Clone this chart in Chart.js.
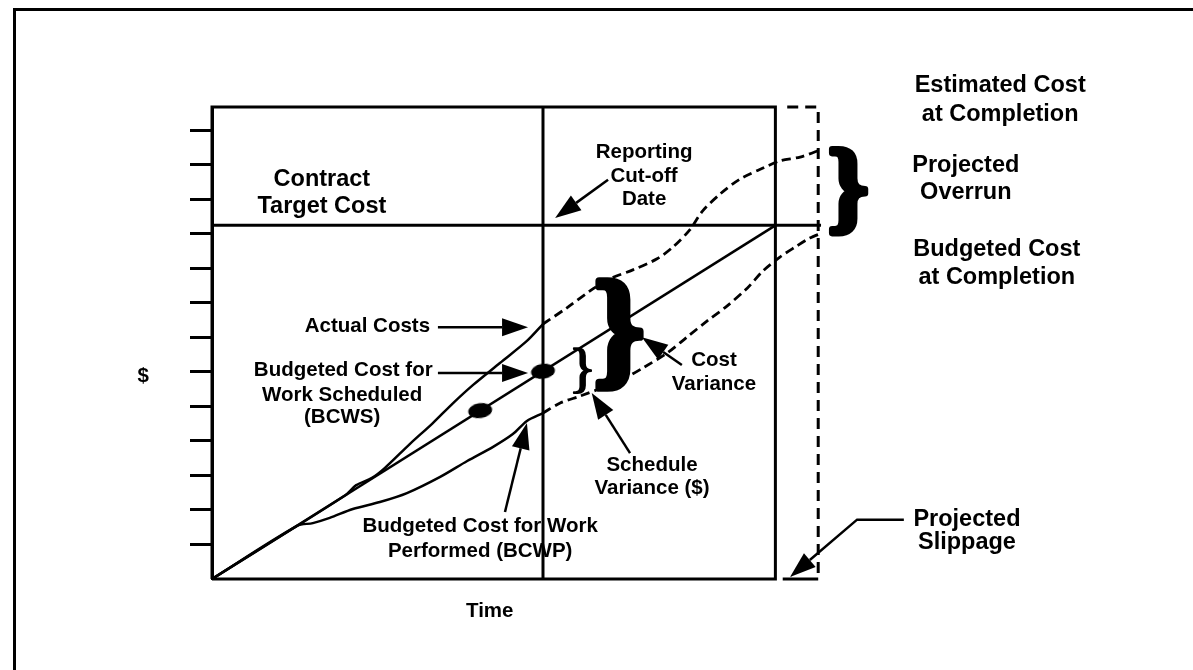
<!DOCTYPE html>
<html><head><meta charset="utf-8">
<script src="https://cdn.jsdelivr.net/npm/chart.js@4.4.1/dist/chart.umd.min.js"></script>
<style>
html,body{margin:0;padding:0;background:#fff;width:1193px;height:670px;overflow:hidden;}
#wrap{position:relative;width:1193px;height:670px;}
#frame{position:absolute;left:13px;top:8px;width:1200px;height:700px;border-top:3px solid #000;border-left:3px solid #000;pointer-events:none;}
canvas{position:absolute;left:0;top:0;}
</style></head><body>
<div id="wrap"><canvas id="c" width="1193" height="670"></canvas><div id="frame"></div></div>
<script>
// ---- data (x = time units, y = cost units; one y tick per cost unit) ----
const yTickValues = [1,2,3,4,5,6,7,8,9,10,11,12,13];
const plotFrame = [[0,0],[100,0],[100,13.68],[0,13.68],[0,0]];
const cutoffLine = [[58.75,0],[58.75,13.68]];
const targetCostLine = [[0,10.25],[108.1,10.25]];
const slippageBox = [[102.1,13.68],[107.6,13.68],[107.6,0]];
const slippageStub = [[101.3,0],[107.6,0]];
const bcws = [[0,0],[100,10.25]];
const bcwsMarkers = [[47.6,4.88],[58.75,6.02]];
const actualToDate = [[0,0],[23.6,2.42],[25.6,2.72],[28.4,2.93],[30.7,3.22],[35.1,3.91],[39.2,4.52],[42.8,5.10],[46.3,5.62],[51.1,6.26],[55.9,6.90],[58.75,7.39]];
const actualProjected = [[58.75,7.39],[63.0,7.86],[67.1,8.35],[70.6,8.70],[74.7,8.96],[79.0,9.28],[81.8,9.62],[84.8,10.12],[87.1,10.67],[90.2,11.16],[93.7,11.59],[97.8,11.91],[100.8,12.12],[104.4,12.23],[108.3,12.46]];
const bcwpToDate = [[0,0],[15.1,1.54],[17.9,1.62],[20.9,1.77],[25.0,2.03],[29.8,2.23],[34.6,2.49],[40.5,2.96],[45.3,3.42],[49.9,3.83],[53.4,4.20],[55.9,4.58],[58.75,4.81]];
const bcwpProjected = [[58.75,4.81],[61.8,5.10],[65.3,5.30],[68.9,5.52],[73.7,5.86],[76.5,6.12],[80.8,6.55],[84.3,7.01],[87.9,7.48],[91.4,7.91],[95.0,8.43],[97.8,8.93],[100.8,9.33],[103.5,9.62],[106.1,9.88],[108.3,10.03]];

// ---- annotations (layout) ----
const labels = [
  {t:'Contract',x:19.5,y:11.57,s:23.5},{t:'Target Cost',x:19.5,y:10.80,s:23.5},
  {t:'Estimated Cost',x:139.9,y:14.29,s:23.5},{t:'at Completion',x:139.9,y:13.47,s:23.5},
  {t:'Projected',x:133.8,y:11.97,s:23.5},{t:'Overrun',x:133.8,y:11.19,s:23.5},
  {t:'Budgeted Cost',x:139.3,y:9.54,s:23.5},{t:'at Completion',x:139.3,y:8.75,s:23.5},
  {t:'Projected',x:134.0,y:1.72,s:23.5},{t:'Slippage',x:134.0,y:1.05,s:23.5},
  {t:'Reporting',x:76.7,y:12.38,s:20.5},{t:'Cut-off',x:76.7,y:11.68,s:20.5},{t:'Date',x:76.7,y:10.99,s:20.5},
  {t:'Actual Costs',x:38.7,y:7.33,s:20.5,a:'right'},
  {t:'Budgeted Cost for',x:23.3,y:6.05,s:20.5},{t:'Work Scheduled',x:23.1,y:5.33,s:20.5},{t:'(BCWS)',x:23.1,y:4.68,s:20.5},
  {t:'Cost',x:89.1,y:6.34,s:20.5},{t:'Variance',x:89.1,y:5.64,s:20.5},
  {t:'Schedule',x:78.1,y:3.30,s:20.5},{t:'Variance ($)',x:78.1,y:2.62,s:20.5},
  {t:'Budgeted Cost for Work',x:47.6,y:1.54,s:20.5},{t:'Performed (BCWP)',x:47.6,y:0.81,s:20.5},
  {t:'Time',x:49.3,y:-0.93,s:20.5},
  {t:'$',x:-12.2,y:5.86,s:20.5}
];
const arrows = [
  [[40.1,7.30],[56.1,7.30]],
  [[40.1,5.97],[56.1,5.97]],
  [[70.3,11.57],[60.9,10.46]],
  [[83.4,6.20],[76.3,7.01]],
  [[74.2,3.65],[67.4,5.39]],
  [[52.0,1.94],[55.9,4.52]],
  [[122.8,1.72],[114.5,1.72],[102.6,0.06]]
];
const braces = [
  {x0:109.9,x1:116.1,y0:10.0,y1:12.45,bold:true,stroke:6},
  {x0:68.5,x1:76.1,y0:5.5,y1:8.6,bold:true,stroke:6},
  {x0:64.2,x1:67.3,y0:5.38,y1:6.68,bold:false,stroke:3}
];

const toXY = a => a.map(([x,y]) => ({x,y}));
function line(data, w, dash, tension){
  return {data:toXY(data), showLine:true, borderColor:'#000', backgroundColor:'#000', borderWidth:w,
    borderDash:dash||[], pointRadius:0, tension:tension||0, clip:false, fill:false};
}
const dot = document.createElement('canvas'); dot.width=25; dot.height=16;
(function(){const d=dot.getContext('2d'); d.fillStyle='#000'; d.beginPath(); d.ellipse(12.5,8,12,7.5,0,0,Math.PI*2); d.fill();})();

const annot = {
  id:'annot',
  afterDatasetsDraw(chart){
    const ctx = chart.ctx, xs = chart.scales.x, ys = chart.scales.y;
    const X = v => xs.getPixelForValue(v), Y = v => ys.getPixelForValue(v);
    ctx.save();
    ctx.fillStyle = '#000'; ctx.strokeStyle = '#000'; ctx.lineCap='butt'; ctx.lineJoin='miter';
    arrows.forEach(a => {
      const p = a.map(([x,y]) => [X(x),Y(y)]);
      const n = p.length, [tx,ty] = p[n-1], [qx,qy] = p[n-2];
      const d = Math.hypot(tx-qx,ty-qy), ux=(tx-qx)/d, uy=(ty-qy)/d;
      const len=26, hw=9, bx=tx-ux*len, by=ty-uy*len;
      ctx.beginPath(); ctx.moveTo(p[0][0],p[0][1]);
      for(let i=1;i<n-1;i++) ctx.lineTo(p[i][0],p[i][1]);
      ctx.lineTo(bx,by); ctx.lineWidth=2.5; ctx.stroke();
      ctx.beginPath(); ctx.moveTo(tx,ty); ctx.lineTo(bx-uy*hw,by+ux*hw); ctx.lineTo(bx+uy*hw,by-ux*hw); ctx.closePath(); ctx.fill();
    });
    braces.forEach(b => {
      const x0=X(b.x0), x1=X(b.x1), yt=Y(b.y1), yb=Y(b.y0);
      ctx.save();
      ctx.font = (b.bold?'bold ':'') + '100px "Liberation Serif", serif';
      const m = ctx.measureText('}');
      const gw = m.actualBoundingBoxLeft + m.actualBoundingBoxRight;
      const gh = m.actualBoundingBoxAscent + m.actualBoundingBoxDescent;
      ctx.translate(x0,yt); ctx.scale((x1-x0)/gw,(yb-yt)/gh);
      ctx.textAlign='left'; ctx.textBaseline='alphabetic';
      ctx.lineJoin='round'; ctx.lineWidth=b.stroke;
      ctx.fillText('}', m.actualBoundingBoxLeft, m.actualBoundingBoxAscent);
      ctx.strokeText('}', m.actualBoundingBoxLeft, m.actualBoundingBoxAscent);
      ctx.restore();
    });
    labels.forEach(l => {
      ctx.font = 'bold ' + l.s + 'px "Liberation Sans", Arial, sans-serif';
      ctx.textAlign = l.a || 'center'; ctx.textBaseline = 'middle';
      ctx.fillText(l.t, X(l.x), Y(l.y));
    });
    ctx.restore();
  }
};

new Chart(document.getElementById('c'), {
  type:'scatter',
  data:{datasets:[
    line(plotFrame,3),
    line(cutoffLine,3),
    line(targetCostLine,3),
    line(slippageBox,3,[11,7]),
    line(slippageStub,3),
    line(bcws,2.5),
    line(actualToDate,2.5,null,0.3),
    line(actualProjected,2.8,[9,5],0.3),
    line(bcwpToDate,2.5,null,0.3),
    line(bcwpProjected,2.8,[9,5],0.3),
    {data:toXY(bcwsMarkers), showLine:false, pointStyle:dot, pointRadius:6, pointRotation:-8, clip:false}
  ]},
  options:{
    responsive:false, animation:false, events:[],
    layout:{padding:{left:190,right:350,top:107,bottom:91}},
    scales:{
      x:{type:'linear', min:0, max:112, display:false},
      y:{type:'linear', min:0, max:13.68, position:'left',
         afterBuildTicks: s => { s.ticks = yTickValues.map(v => ({value:v})); },
         ticks:{display:false},
         grid:{drawOnChartArea:false, drawTicks:true, tickLength:22, tickWidth:3, tickColor:'#000'},
         border:{display:true, width:3, color:'#000'}}
    },
    plugins:{legend:{display:false}, tooltip:{enabled:false}}
  },
  plugins:[annot]
});
</script></body></html>
